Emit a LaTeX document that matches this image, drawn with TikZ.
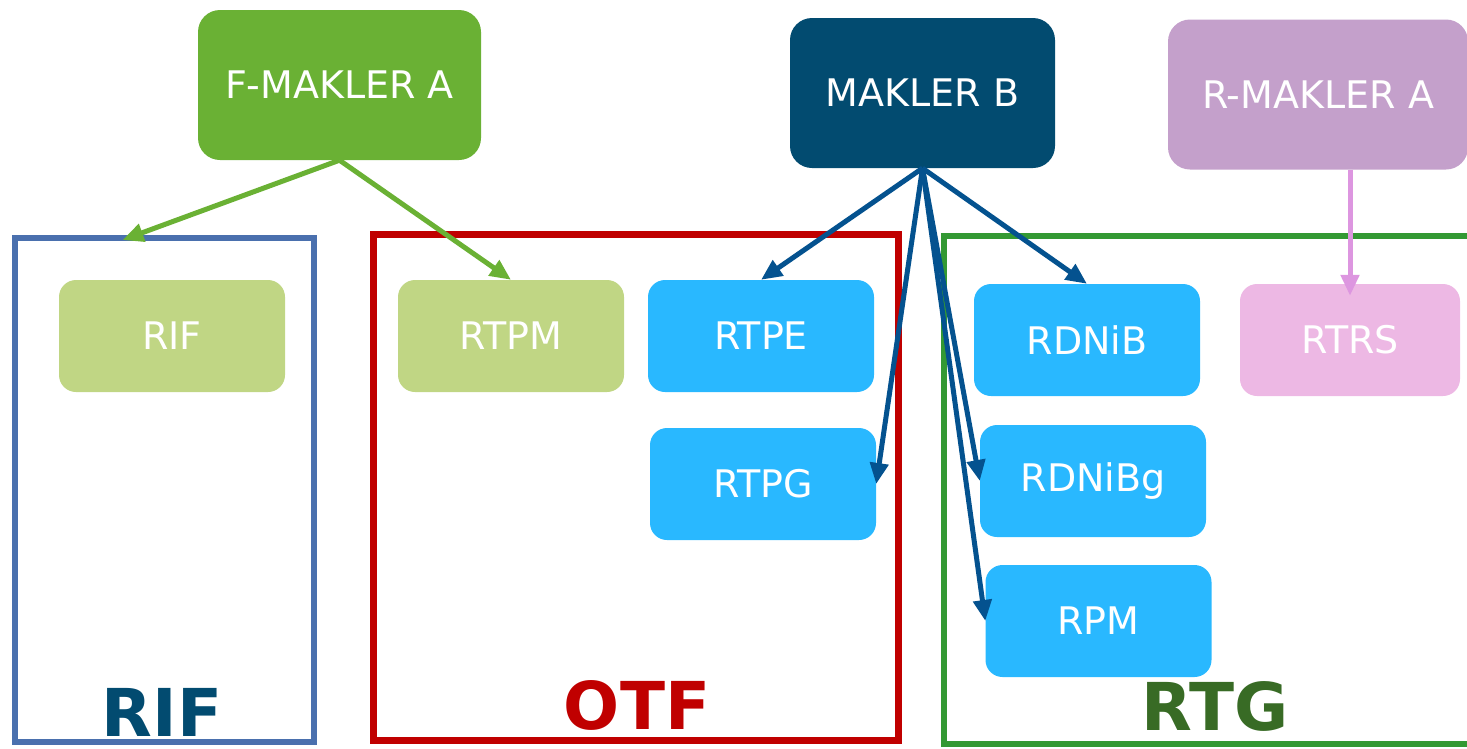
\documentclass[tikz,border=0pt]{standalone}
\usepackage{fontspec}
\setmainfont{DejaVu Sans}
\usetikzlibrary{arrows.meta}
\usetikzlibrary{calc}
\definecolor{fgreen}{HTML}{6AB134}
\definecolor{bdark}{HTML}{024B70}
\definecolor{rlilac}{HTML}{C4A0CB}
\definecolor{lime}{HTML}{C0D684}
\definecolor{sky}{HTML}{29B8FF}
\definecolor{rose}{HTML}{EDB8E4}
\definecolor{rifblue}{HTML}{4A70AE}
\definecolor{otfred}{HTML}{C00000}
\definecolor{rtggreen}{HTML}{339933}
\definecolor{rtgdark}{HTML}{386B25}
\definecolor{mblue}{HTML}{04528F}
\definecolor{rpink}{HTML}{DD96E0}
\tikzstyle{block} = [rectangle, rounded corners=17pt, inner sep=0pt,
                     text=white, font=\fontsize{38}{46}\selectfont,
                     minimum width=226pt, minimum height=112pt]
\tikzstyle{broker}=[block, rounded corners=22pt, minimum height=150pt]
\tikzstyle{fund}=[block, fill=lime]
\tikzstyle{plan}=[block, fill=sky]
\tikzstyle{rent}=[block, fill=rose, minimum width=220pt]
\tikzstyle{group}=[rectangle, draw, inner sep=0pt, line width=6pt]
\tikzstyle{grouplabel}=[anchor=base, font=\fontsize{66}{72}\selectfont\bfseries]
\tikzstyle{link}=[line width=5pt, -{Triangle[length=21pt,width=18pt]}]
\newcommand{\unit}[4][]{\node [#1] (#2) at #3 {#4};}

\begin{document}
\begin{tikzpicture}[x=1pt, y=-1pt]
  \useasboundingbox (0,0) rectangle (1467,748);
  \clip (0,0) rectangle (1467,748);
  % groups
  \node [group, draw=rifblue, minimum width=299pt, minimum height=504pt] (rifgrp) at (164.5,490) {};
  \node [group, draw=otfred, line width=7pt, minimum width=525pt, minimum height=506pt] (otfgrp) at (636,487.5) {};
  \node [group, draw=rtggreen, minimum width=536pt, minimum height=508pt] (rtggrp) at (1212,490) {};
  \node [grouplabel, text=bdark] (riflbl) at (162,736) {RIF};
  \node [grouplabel, text=otfred] (otflbl) at (637,729) {OTF};
  \node [grouplabel, text=rtgdark] (rtglbl) at (1215,730) {RTG};
  % brokers
  \unit[broker, fill=fgreen, minimum width=283pt] {fma} {(339.5,85)} {F-MAKLER A}
  \unit[broker, fill=bdark, minimum width=265pt] {mkb} {(922.5,93)} {MAKLER B}
  \unit[broker, fill=rlilac, minimum width=300pt] {rma} {(1318,94.5)} {R-MAKLER A}
  % products
  \unit[fund] {rif} {(172,336)} {RIF}
  \unit[fund] {rtpm} {(511,336)} {RTPM}
  \unit[plan] {rtpe} {(761,336)} {RTPE}
  \unit[plan] {rtpg} {(763,484)} {RTPG}
  \unit[plan] {rdnib} {(1087,340)} {RDNiB}
  \unit[plan] {rdnibg} {(1093,481)} {RDNiBg}
  \unit[plan] {rpm} {(1098.5,621)} {RPM}
  \unit[rent] {rtrs} {(1350,340)} {RTRS}
  \coordinate (rifin) at ($(rifgrp.north)+(-42,5)$);
  \coordinate (rmaout) at (rma.south -| rtrs.north);
  \coordinate (rtrsin) at ($(rtrs.north)+(0,12)$);
  % links
  \draw [link, fgreen] (fma.south) -- (rifin);
  \draw [link, fgreen] (fma.south) -- (rtpm.north);
  \draw [link, mblue] (mkb.south) -- (rtpe.north);
  \draw [link, mblue] (mkb.south) -- (rtpg.east);
  \draw [link, mblue] (mkb.south) -- (rdnib.north);
  \draw [link, mblue] (mkb.south) -- (rdnibg.west);
  \draw [link, mblue] (mkb.south) -- (rpm.west);
  \draw [link, rpink] (rmaout) -- (rtrsin);
\end{tikzpicture}
\end{document}
